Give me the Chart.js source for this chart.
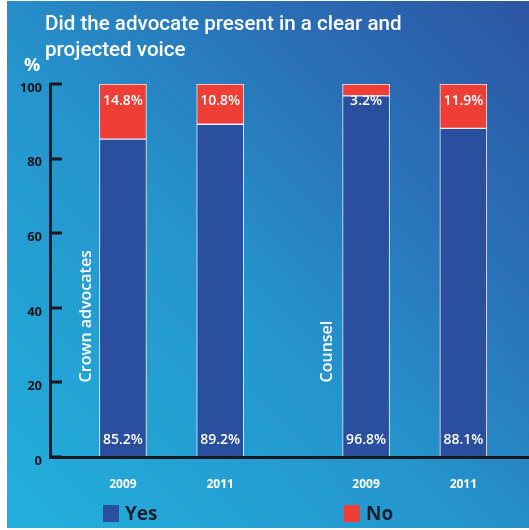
<!DOCTYPE html>
<html>
<head>
<meta charset="utf-8">
<title>Clear and projected voice</title>
<script src="https://cdn.jsdelivr.net/npm/chart.js@4.4.1/dist/chart.umd.min.js"></script>
<style>
    html, body {
        margin: 0;
        padding: 0;
        background: #ffffff;
    }
    .panel {
        position: absolute;
        left: 7px;
        top: 1px;
        width: 522px;
        height: 527px;
        background: linear-gradient(to top right, #22b0dd 0%, #2594cc 45%, #2a73b9 70%, #2c55a3 100%);
    }
    .chart-wrap {
        position: absolute;
        left: 0;
        top: 0;
        width: 529px;
        height: 530px;
    }
    .chart-title {
        position: absolute;
        left: 45px;
        top: 10px;
        margin: 0;
        font-family: Roboto, "Open Sans", sans-serif;
        font-weight: 500;
        font-size: 20.6px;
        line-height: 26px;
        color: #ffffff;
    }
    .unit {
        position: absolute;
        left: 24px;
        top: 52px;
        font-family: "Open Sans", sans-serif;
        font-weight: 700;
        font-size: 18px;
        color: #ffffff;
    }
    .legend-item {
        position: absolute;
        top: 500px;
        display: flex;
        align-items: center;
        font-family: "Open Sans", sans-serif;
        font-weight: 700;
        font-size: 19px;
        color: #18202e;
    }
    .legend-box {
        width: 16px;
        height: 17px;
        margin-right: 6px;
    }
</style>
</head>
<body>
<div class="panel"></div>
<div class="chart-wrap"><canvas id="voiceChart" width="529" height="530"></canvas></div>
<h1 class="chart-title">Did the advocate present in a clear and<br>projected voice</h1>
<div class="unit">%</div>
<div class="legend-item" style="left:103px"><span class="legend-box" id="yesBox"></span>Yes</div>
<div class="legend-item" style="left:344px"><span class="legend-box" id="noBox"></span>No</div>

<script>
// Survey results: share of advocates rated yes / no
const yearLabels = ['2009', '2011', '2009', '2011'];
const barSlots = [0, 2, 5, 7];
const yesValues = [85.2, 89.2, 96.8, 88.1];
const noValues = [14.8, 10.8, 3.2, 11.9];
const groupNames = ['Crown advocates', 'Counsel'];
const groupSlots = [-0.75, 4.2];
const yTickValues = [0, 20, 40, 60, 80, 100];

const YES_COLOR = '#2a4f9f';
const NO_COLOR = '#ef3e36';
const AXIS_COLOR = '#16181f';

document.getElementById('yesBox').style.background = YES_COLOR;
document.getElementById('noBox').style.background = NO_COLOR;

function toPoints(values) {
    return values.map((v, i) => ({ x: barSlots[i], y: v }));
}

// Inward tick marks, value labels and the rotated group names
const decorPlugin = {
    id: 'decor',
    afterDatasetsDraw(chart) {
        const { ctx, scales: { x, y } } = chart;
        ctx.save();

        ctx.strokeStyle = AXIS_COLOR;
        ctx.lineWidth = 3;
        yTickValues.forEach(v => {
            const py = Math.round(y.getPixelForValue(v));
            ctx.beginPath();
            ctx.moveTo(x.left, py);
            ctx.lineTo(x.left + 12, py);
            ctx.stroke();
        });

        ctx.fillStyle = '#ffffff';
        ctx.font = '600 14px "Open Sans", sans-serif';
        ctx.textAlign = 'center';
        ctx.textBaseline = 'middle';

        const yesMeta = chart.getDatasetMeta(0);
        yesMeta.data.forEach((bar, i) => {
            ctx.fillText(yesValues[i].toFixed(1) + '%', bar.x, bar.base - 17);
        });
        const noMeta = chart.getDatasetMeta(1);
        noMeta.data.forEach((bar, i) => {
            ctx.fillText(noValues[i].toFixed(1) + '%', bar.x, bar.y + 17);
        });

        ctx.font = '600 16px "Open Sans", sans-serif';
        ctx.textAlign = 'left';
        groupNames.forEach((name, i) => {
            ctx.save();
            ctx.translate(x.getPixelForValue(groupSlots[i]), y.getPixelForValue(20));
            ctx.rotate(-Math.PI / 2);
            ctx.fillText(name, 0, 0);
            ctx.restore();
        });

        ctx.restore();
    }
};

const ctx = document.getElementById('voiceChart');

new Chart(ctx, {
    type: 'bar',
    data: {
        datasets: [{
            label: 'Yes',
            data: toPoints(yesValues),
            backgroundColor: YES_COLOR,
            borderColor: '#e6edf7',
            borderWidth: 1,
            borderSkipped: false,
            barThickness: 47
        }, {
            label: 'No',
            data: toPoints(noValues),
            backgroundColor: NO_COLOR,
            borderColor: '#e6edf7',
            borderWidth: 1,
            borderSkipped: false,
            barThickness: 47
        }]
    },
    options: {
        responsive: false,
        animation: false,
        layout: {
            padding: { top: 84, left: 0, right: 0, bottom: 0 }
        },
        plugins: {
            legend: { display: false },
            tooltip: { enabled: false }
        },
        scales: {
            x: {
                type: 'linear',
                stacked: true,
                offset: false,
                min: -1.5,
                max: 8.35,
                afterFit: scale => { scale.height = 73; },
                afterBuildTicks: scale => {
                    scale.ticks = barSlots.map(v => ({ value: v }));
                },
                grid: { display: false, drawTicks: false },
                border: { display: true, color: AXIS_COLOR, width: 3, z: 1 },
                ticks: {
                    autoSkip: false,
                    maxRotation: 0,
                    padding: 20,
                    color: '#ffffff',
                    font: { family: '"Open Sans", sans-serif', size: 12, weight: '700' },
                    callback: function(value, index) {
                        return yearLabels[index];
                    }
                }
            },
            y: {
                stacked: true,
                min: 0,
                max: 100,
                afterFit: scale => { scale.width = 50; },
                afterBuildTicks: scale => {
                    scale.ticks = yTickValues.map(v => ({ value: v }));
                },
                grid: { display: false, drawTicks: false },
                border: { display: true, color: AXIS_COLOR, width: 3, z: 1 },
                ticks: {
                    padding: 8,
                    labelOffset: 4,
                    color: AXIS_COLOR,
                    font: { family: '"Open Sans", sans-serif', size: 13, weight: '700' }
                }
            }
        }
    },
    plugins: [decorPlugin]
});
</script>
</body>
</html>
